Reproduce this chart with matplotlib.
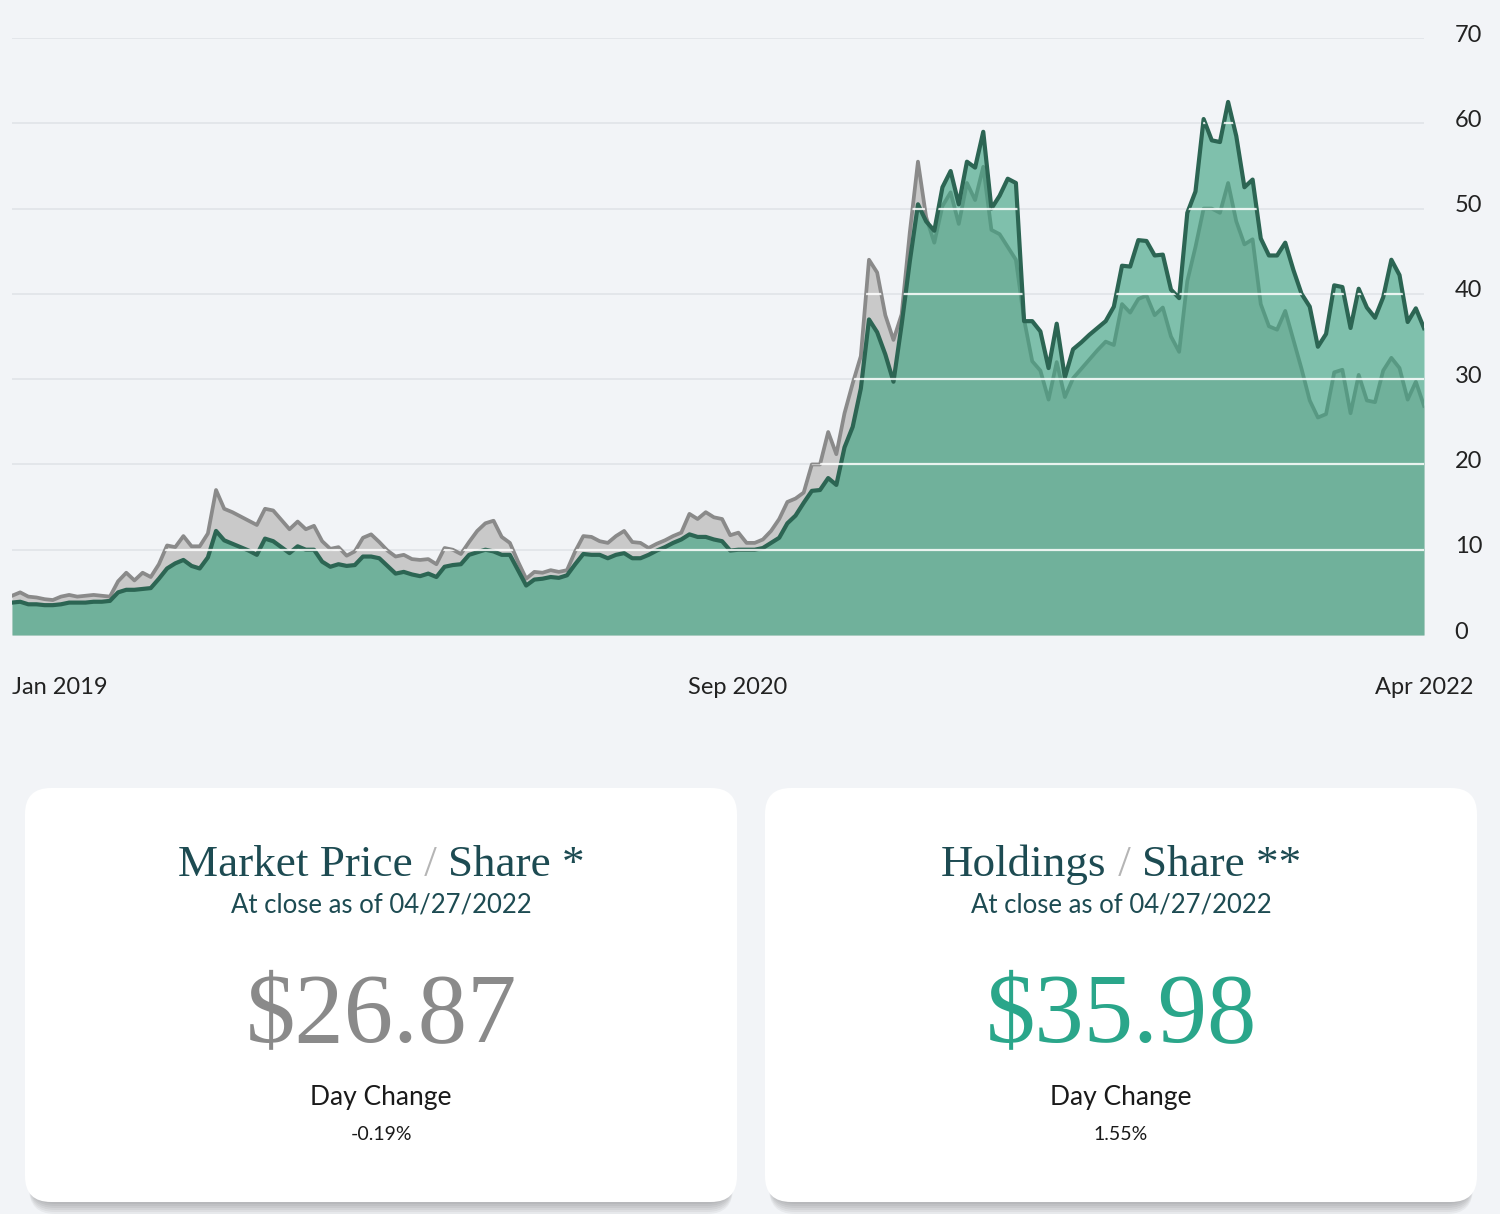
import numpy as np
import pandas as pd
import matplotlib
matplotlib.use("Agg")
import matplotlib.pyplot as plt
from matplotlib.patches import FancyBboxPatch, PathPatch
import matplotlib.transforms as mtrans

plt.rcParams['font.family'] = ['Lato', 'DejaVu Sans']

# ---------------- data (weekly closes) ----------------
dates = pd.date_range('2019-01-02', '2022-04-27', freq='7D')

market = [4.6, 5.0, 4.5, 4.4, 4.2, 4.1, 4.5, 4.7, 4.5, 4.6,
          4.7, 4.6, 4.5, 6.3, 7.3, 6.4, 7.3, 6.8, 8.3, 10.5,
          10.3, 11.6, 10.4, 10.4, 11.9, 17.0, 14.8, 14.4, 13.9, 13.4,
          12.9, 14.8, 14.6, 13.5, 12.4, 13.3, 12.4, 12.8, 11.0, 10.1,
          10.3, 9.3, 9.8, 11.4, 11.8, 10.9, 9.9, 9.2, 9.4, 8.9,
          8.8, 8.9, 8.3, 10.2, 10.0, 9.5, 10.9, 12.2, 13.1, 13.4,
          11.5, 10.8, 8.6, 6.6, 7.4, 7.3, 7.6, 7.4, 7.6, 9.8,
          11.6, 11.5, 11.0, 10.8, 11.6, 12.2, 10.9, 10.8, 10.2, 10.7,
          11.1, 11.6, 12.0, 14.2, 13.6, 14.4, 13.8, 13.6, 11.7, 12.0,
          10.8, 10.8, 11.2, 12.2, 13.6, 15.6, 16.0, 16.7, 20.0, 20.0,
          23.8, 21.2, 26.0, 29.5, 32.7, 44.0, 42.5, 37.5, 34.6, 37.6,
          47.2, 55.5, 49.0, 46.0, 50.3, 51.9, 48.2, 53.0, 51.0, 54.9,
          47.5, 47.0, 45.5, 44.0, 37.0, 32.1, 31.0, 27.6, 32.0, 27.9,
          30.1, 31.2, 32.3, 33.4, 34.4, 34.0, 38.8, 37.8, 39.4, 39.8,
          37.5, 38.4, 35.0, 33.2, 41.5, 45.5, 50.0, 50.0, 49.5, 53.0,
          48.5, 45.8, 46.4, 38.8, 36.2, 35.8, 38.0, 34.6, 31.2, 27.5,
          25.5, 25.9, 30.8, 31.1, 26.0, 30.5, 27.5, 27.3, 31.0, 32.5,
          31.3, 27.6, 29.7, 26.87]

holdings = [3.8, 3.9, 3.6, 3.6, 3.5, 3.5, 3.6, 3.8, 3.8, 3.8,
            3.9, 3.9, 4.0, 5.0, 5.3, 5.3, 5.4, 5.5, 6.6, 7.8,
            8.4, 8.8, 8.1, 7.8, 9.1, 12.2, 11.1, 10.7, 10.3, 9.9,
            9.4, 11.3, 11.0, 10.3, 9.6, 10.4, 10.0, 10.0, 8.6, 8.0,
            8.3, 8.1, 8.2, 9.2, 9.2, 9.0, 8.1, 7.2, 7.4, 7.1,
            6.9, 7.2, 6.8, 8.0, 8.2, 8.3, 9.4, 9.7, 10.0, 9.8,
            9.4, 9.4, 7.6, 5.8, 6.5, 6.6, 6.8, 6.7, 7.0, 8.3,
            9.5, 9.4, 9.4, 9.0, 9.4, 9.6, 9.0, 9.0, 9.4, 9.9,
            10.3, 10.8, 11.2, 11.8, 11.5, 11.5, 11.2, 11.0, 9.9, 10.0,
            10.0, 10.0, 10.2, 10.8, 11.4, 13.1, 14.0, 15.5, 16.9, 17.0,
            18.4, 17.6, 22.0, 24.4, 28.9, 37.0, 35.5, 32.9, 29.7, 36.4,
            43.8, 50.5, 48.5, 47.4, 52.5, 54.4, 50.5, 55.5, 54.8, 59.0,
            50.0, 51.5, 53.5, 53.0, 36.8, 36.8, 35.6, 31.3, 36.5, 30.2,
            33.5, 34.3, 35.2, 36.0, 36.8, 38.5, 43.3, 43.2, 46.3, 46.2,
            44.5, 44.6, 40.5, 39.5, 49.5, 52.0, 60.5, 58.0, 57.8, 62.5,
            58.5, 52.5, 53.4, 46.5, 44.5, 44.5, 46.0, 42.8, 40.0, 38.5,
            33.8, 35.3, 41.0, 40.8, 36.0, 40.6, 38.4, 37.2, 39.6, 44.0,
            42.2, 36.7, 38.3, 35.98]

yticks = [0, 10, 20, 30, 40, 50, 60, 70]
xtick_dates = ['2019-01-02', '2020-09-15', '2022-04-27']
xtick_labels = ['Jan 2019', 'Sep 2020', 'Apr 2022']

cards = [
    dict(title=['Market Price', ' / ', 'Share *'], value='$26.87',
         value_color='#8a8a8a', change='-0.19%', cx=381, x0=25),
    dict(title=['Holdings', ' / ', 'Share **'], value='$35.98',
         value_color='#2aa68a', change='1.55%', cx=1121, x0=765),
]
as_of = 'At close as of 04/27/2022'
change_label = 'Day Change'

# ---------------- figure ----------------
W, H = 1500, 1214
BG = '#f2f4f7'
fig = plt.figure(figsize=(W / 100, H / 100), dpi=100, facecolor=BG)

ax = fig.add_axes([12 / W, 1 - 635 / H, 1412 / W, 597 / H])
ax.set_facecolor('none')

for v in yticks[1:]:
    ax.axhline(v, color='#e1e4e8', lw=1.2, zorder=0)

ax.fill_between(dates, 0, market, color='#c9c9c9', lw=0, zorder=1)
ax.plot(dates, market, color='#8a8a8a', lw=2.7, zorder=2,
        solid_joinstyle='round')
ax.fill_between(dates, 0, holdings, color='#3ca380', alpha=0.63, lw=0,
                zorder=3)
ax.plot(dates, holdings, color='#2c6553', lw=3.0, zorder=4,
        solid_joinstyle='round')

clip_coll = ax.fill_between(dates, 0, np.maximum(market, holdings),
                            color='none', lw=0, zorder=0)
clip_patch = PathPatch(clip_coll.get_paths()[0], transform=ax.transData,
                       fc='none', ec='none')
ax.add_patch(clip_patch)
for v in yticks[1:]:
    ln = ax.axhline(v, color='white', lw=1.6, alpha=0.85, zorder=5)
    ln.set_clip_path(clip_patch)

ax.set_xlim(dates[0], dates[-1])
ax.set_ylim(0, 70)
for s in ax.spines.values():
    s.set_visible(False)
ax.yaxis.tick_right()
ax.set_yticks(yticks)
ax.set_yticklabels([str(v) for v in yticks])
ax.tick_params(axis='y', length=0, pad=22, labelsize=17, labelcolor='#222222')
up = mtrans.ScaledTranslation(0, 5 / 100, fig.dpi_scale_trans)
for lab in ax.get_yticklabels():
    lab.set_transform(lab.get_transform() + up)
ax.set_xticks([])

trans = mtrans.blended_transform_factory(ax.transData, ax.transAxes)
for d, lab, ha in zip(xtick_dates, xtick_labels, ['left', 'center', 'center']):
    ax.text(pd.Timestamp(d), -0.088, lab, transform=trans, ha=ha, va='center',
            fontsize=17, color='#222222')

# ---------------- cards ----------------
ov = fig.add_axes([0, 0, 1, 1])
ov.set_xlim(0, W)
ov.set_ylim(H, 0)
ov.axis('off')
ov.patch.set_alpha(0)

TEAL = '#1d4b52'
cw, ch, cy0 = 712, 414, 788
for c in cards:
    x0 = c['x0']
    for i in range(1, 7):
        ov.add_patch(FancyBboxPatch((x0 + 4, cy0 + i * 2), cw - 8, ch,
                                    boxstyle='round,pad=0,rounding_size=26',
                                    fc='#000000', ec='none', alpha=0.045,
                                    zorder=1))
    ov.add_patch(FancyBboxPatch((x0, cy0), cw, ch,
                                boxstyle='round,pad=0,rounding_size=26',
                                fc='white', ec='none', zorder=2))

fig.canvas.draw()
renderer = fig.canvas.get_renderer()
serif = ['Liberation Serif', 'DejaVu Serif']
TS = 32.5
for c in cards:
    pieces = c['title']
    colors = [TEAL, '#b5b5b5', TEAL]
    widths = []
    tmp = []
    for p in pieces:
        t = ov.text(0, 0, p, fontsize=TS, family=serif)
        widths.append(t.get_window_extent(renderer).width)
        tmp.append(t)
    for t in tmp:
        t.remove()
    xl = c['cx'] - sum(widths) / 2
    for p, col, w in zip(pieces, colors, widths):
        ov.text(xl, 876, p, fontsize=TS, family=serif, color=col,
                ha='left', va='baseline', zorder=3)
        xl += w
    ov.text(c['cx'], 905, as_of, fontsize=18.5, color=TEAL, ha='center',
            va='center', zorder=3)
    ov.text(c['cx'], 1042, c['value'], fontsize=71, family=serif,
            color=c['value_color'], ha='center', va='baseline', zorder=3)
    ov.text(c['cx'], 1097, change_label, fontsize=19, color='#1a1a1a',
            ha='center', va='center', zorder=3)
    ov.text(c['cx'], 1135, c['change'], fontsize=14, color='#1a1a1a',
            ha='center', va='center', zorder=3)

fig.savefig('out.png', dpi=100, facecolor=BG)
